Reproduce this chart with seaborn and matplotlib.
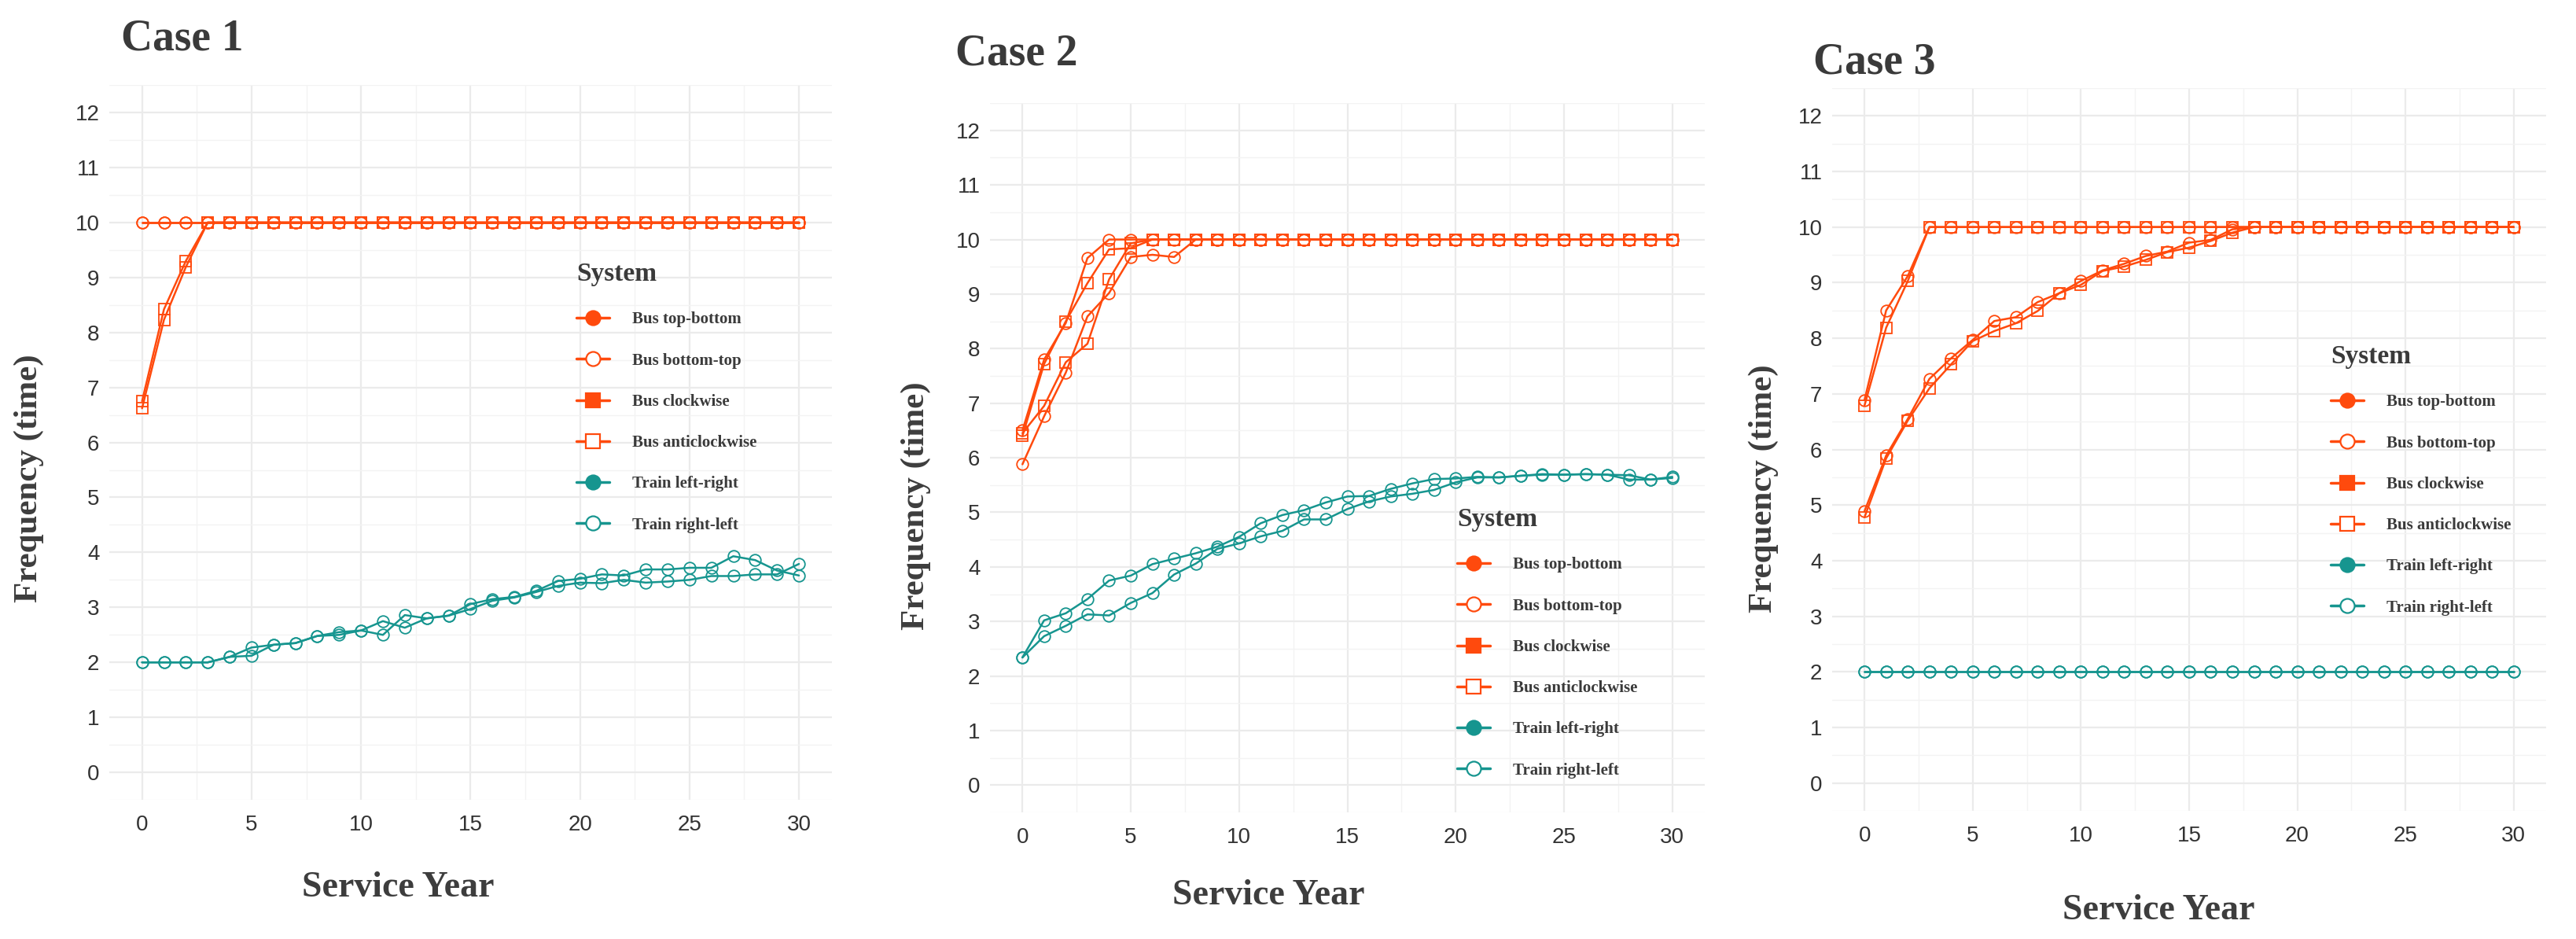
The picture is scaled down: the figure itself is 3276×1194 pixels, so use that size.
import matplotlib
matplotlib.use('Agg')
import matplotlib.pyplot as plt
from matplotlib.lines import Line2D
from matplotlib.ticker import MultipleLocator
import seaborn as sns

# Service years 0..30
years = list(range(31))

series_names = ['Bus top-bottom', 'Bus bottom-top', 'Bus clockwise',
                'Bus anticlockwise', 'Train left-right', 'Train right-left']

# Case 1
c1_bus_top_bottom = [10, 10, 10, 10, 10, 10, 10, 10, 10, 10, 10, 10, 10, 10, 10, 10,
                     10, 10, 10, 10, 10, 10, 10, 10, 10, 10, 10, 10, 10, 10, 10]
c1_bus_bottom_top = [10, 10, 10, 10, 10, 10, 10, 10, 10, 10, 10, 10, 10, 10, 10, 10,
                     10, 10, 10, 10, 10, 10, 10, 10, 10, 10, 10, 10, 10, 10, 10]
c1_bus_clockwise = [6.75, 8.42, 9.3, 10, 10, 10, 10, 10, 10, 10, 10, 10, 10, 10, 10, 10,
                    10, 10, 10, 10, 10, 10, 10, 10, 10, 10, 10, 10, 10, 10, 10]
c1_bus_anticlockwise = [6.62, 8.23, 9.19, 10, 10, 10, 10, 10, 10, 10, 10, 10, 10, 10, 10, 10,
                        10, 10, 10, 10, 10, 10, 10, 10, 10, 10, 10, 10, 10, 10, 10]
c1_train_left_right = [2.0, 2.0, 2.0, 2.0, 2.1, 2.27, 2.32, 2.35, 2.48, 2.55, 2.58, 2.75,
                       2.63, 2.8, 2.85, 3.06, 3.15, 3.19, 3.3, 3.48, 3.52, 3.6, 3.58, 3.69,
                       3.69, 3.72, 3.72, 3.93, 3.86, 3.67, 3.58]
c1_train_right_left = [2.0, 2.0, 2.0, 2.0, 2.1, 2.12, 2.32, 2.35, 2.48, 2.5, 2.58, 2.5,
                       2.86, 2.8, 2.85, 2.97, 3.12, 3.18, 3.28, 3.39, 3.45, 3.44, 3.5, 3.45,
                       3.47, 3.5, 3.57, 3.57, 3.6, 3.6, 3.79]

# Case 2
c2_bus_top_bottom = [6.5, 7.8, 8.47, 9.66, 10, 10, 10, 10, 10, 10, 10, 10, 10, 10, 10, 10,
                     10, 10, 10, 10, 10, 10, 10, 10, 10, 10, 10, 10, 10, 10, 10]
c2_bus_bottom_top = [5.88, 6.76, 7.56, 8.59, 9.02, 9.68, 9.72, 9.68, 10, 10, 10, 10, 10, 10,
                     10, 10, 10, 10, 10, 10, 10, 10, 10, 10, 10, 10, 10, 10, 10, 10, 10]
c2_bus_clockwise = [6.4, 7.72, 8.5, 9.2, 9.82, 9.84, 10, 10, 10, 10, 10, 10, 10, 10, 10, 10,
                    10, 10, 10, 10, 10, 10, 10, 10, 10, 10, 10, 10, 10, 10, 10]
c2_bus_anticlockwise = [6.45, 6.95, 7.75, 8.09, 9.27, 9.93, 10, 10, 10, 10, 10, 10, 10, 10,
                        10, 10, 10, 10, 10, 10, 10, 10, 10, 10, 10, 10, 10, 10, 10, 10, 10]
c2_train_left_right = [2.34, 3.02, 3.15, 3.41, 3.75, 3.84, 4.05, 4.15, 4.25, 4.37, 4.55,
                       4.8, 4.95, 5.04, 5.18, 5.29, 5.3, 5.43, 5.53, 5.61, 5.62, 5.65, 5.64,
                       5.67, 5.69, 5.69, 5.7, 5.69, 5.68, 5.6, 5.63]
c2_train_right_left = [2.34, 2.73, 2.92, 3.13, 3.11, 3.34, 3.52, 3.86, 4.06, 4.33, 4.43,
                       4.56, 4.66, 4.87, 4.87, 5.06, 5.2, 5.29, 5.34, 5.41, 5.55, 5.64, 5.64,
                       5.67, 5.7, 5.69, 5.7, 5.69, 5.6, 5.6, 5.65]

# Case 3
c3_bus_top_bottom = [6.89, 8.5, 9.12, 10, 10, 10, 10, 10, 10, 10, 10, 10, 10, 10, 10, 10,
                     10, 10, 10, 10, 10, 10, 10, 10, 10, 10, 10, 10, 10, 10, 10]
c3_bus_bottom_top = [4.89, 5.89, 6.55, 7.27, 7.64, 7.97, 8.31, 8.38, 8.65, 8.81, 9.03, 9.22,
                     9.34, 9.48, 9.56, 9.72, 9.77, 9.96, 10, 10, 10, 10, 10, 10, 10, 10, 10,
                     10, 10, 10, 10]
c3_bus_clockwise = [6.79, 8.19, 9.03, 10, 10, 10, 10, 10, 10, 10, 10, 10, 10, 10, 10, 10,
                    10, 10, 10, 10, 10, 10, 10, 10, 10, 10, 10, 10, 10, 10, 10]
c3_bus_anticlockwise = [4.78, 5.84, 6.52, 7.1, 7.53, 7.95, 8.13, 8.27, 8.49, 8.81, 8.96,
                        9.21, 9.29, 9.41, 9.55, 9.63, 9.75, 9.9, 10, 10, 10, 10, 10, 10, 10,
                        10, 10, 10, 10, 10, 10]
c3_train_left_right = [2, 2, 2, 2, 2, 2, 2, 2, 2, 2, 2, 2, 2, 2, 2, 2,
                       2, 2, 2, 2, 2, 2, 2, 2, 2, 2, 2, 2, 2, 2, 2]
c3_train_right_left = [2, 2, 2, 2, 2, 2, 2, 2, 2, 2, 2, 2, 2, 2, 2, 2,
                       2, 2, 2, 2, 2, 2, 2, 2, 2, 2, 2, 2, 2, 2, 2]

y_ticks = list(range(0, 13))
x_ticks = [0, 5, 10, 15, 20, 25, 30]

bus_color = '#FF4A0D'
train_color = '#16958F'
colors = [bus_color, bus_color, bus_color, bus_color, train_color, train_color]
markers = ['o', 'o', 's', 's', 'o', 'o']
filled = [True, False, True, False, True, False]

serif = 'Liberation Serif'
sans = 'Liberation Sans'

cases = [
    ('Case 1', [c1_bus_top_bottom, c1_bus_bottom_top, c1_bus_clockwise,
                c1_bus_anticlockwise, c1_train_left_right, c1_train_right_left]),
    ('Case 2', [c2_bus_top_bottom, c2_bus_bottom_top, c2_bus_clockwise,
                c2_bus_anticlockwise, c2_train_left_right, c2_train_right_left]),
    ('Case 3', [c3_bus_top_bottom, c3_bus_bottom_top, c3_bus_clockwise,
                c3_bus_anticlockwise, c3_train_left_right, c3_train_right_left]),
]

# panel layout (figure fractions) and label placement
axes_rects = [[0.0424, 0.1482, 0.2805, 0.7613],
              [0.3843, 0.1348, 0.2775, 0.7554],
              [0.7112, 0.1365, 0.2772, 0.7697]]
title_pos = [(0.0470, 0.9472), (0.3710, 0.9305), (0.7040, 0.9213)]
xlabel_pos = [(0.40, -0.10), (0.39, -0.094), (0.457, -0.115)]
ylabel_pos = [(-0.09, 0.45), (-0.083, 0.432), (-0.075, 0.446)]
legend_pos = [(0.2237, 0.7211), (0.5656, 0.4598), (0.9048, 0.6332)]

sns.set_theme(style='white')

fig = plt.figure(figsize=(32.76, 11.94), dpi=100)

for i, (title, data) in enumerate(cases):
    ax = fig.add_axes(axes_rects[i])
    for vals, c, m in zip(data, colors, markers):
        sns.lineplot(x=years, y=vals, ax=ax, color=c, linewidth=1.8,
                     marker=m, markersize=10.5, markerfacecolor='none',
                     markeredgecolor=c, markeredgewidth=1.3, legend=False)
    ax.set_xlim(-1.5, 31.5)
    ax.set_ylim(-0.5, 12.5)
    ax.set_xticks(x_ticks)
    ax.set_yticks(y_ticks)
    ax.xaxis.set_minor_locator(MultipleLocator(2.5))
    ax.yaxis.set_minor_locator(MultipleLocator(0.5))
    ax.grid(which='major', color='#EBEBEB', linewidth=1.6)
    ax.grid(which='minor', color='#F3F3F3', linewidth=1.0)
    ax.set_axisbelow(True)
    for s in ax.spines.values():
        s.set_visible(False)
    ax.tick_params(which='both', length=0)
    ax.tick_params(axis='y', pad=9, labelsize=20, labelcolor='#333333')
    ax.tick_params(axis='x', pad=14, labelsize=20, labelcolor='#333333')
    for lab in ax.get_xticklabels() + ax.get_yticklabels():
        lab.set_fontfamily(sans)

    ax.set_xlabel('Service Year', fontsize=33, fontfamily=serif,
                  fontweight='bold', color='#3D3D3D')
    ax.set_ylabel('Frequency (time)', fontsize=31, fontfamily=serif,
                  fontweight='bold', color='#3D3D3D')
    ax.xaxis.set_label_coords(*xlabel_pos[i])
    ax.yaxis.set_label_coords(*ylabel_pos[i])

    fig.text(title_pos[i][0], title_pos[i][1], title, fontsize=40,
             fontfamily=serif, fontweight='bold', color='#3A3A3A', va='baseline')

    handles = []
    for c, m, f in zip(colors, markers, filled):
        handles.append(Line2D([0], [0], color=c, linewidth=2.5, marker=m,
                              markersize=13, markerfacecolor=c if f else 'white',
                              markeredgecolor=c, markeredgewidth=1.6))
    leg = ax.legend(handles, series_names, title='System',
                    loc='upper left', bbox_to_anchor=legend_pos[i],
                    bbox_transform=fig.transFigure, frameon=False,
                    borderpad=0, borderaxespad=0, handlelength=2.0,
                    handletextpad=1.4, labelspacing=1.55, alignment='left',
                    prop={'family': serif, 'weight': 'bold', 'size': 15})
    leg.get_title().set_fontfamily(serif)
    leg.get_title().set_fontsize(24)
    leg.get_title().set_fontweight('bold')
    leg.get_title().set_color('#3A3A3A')
    for t in leg.get_texts():
        t.set_color('#3A3A3A')

fig.savefig('out.png', dpi=100, facecolor='white')
